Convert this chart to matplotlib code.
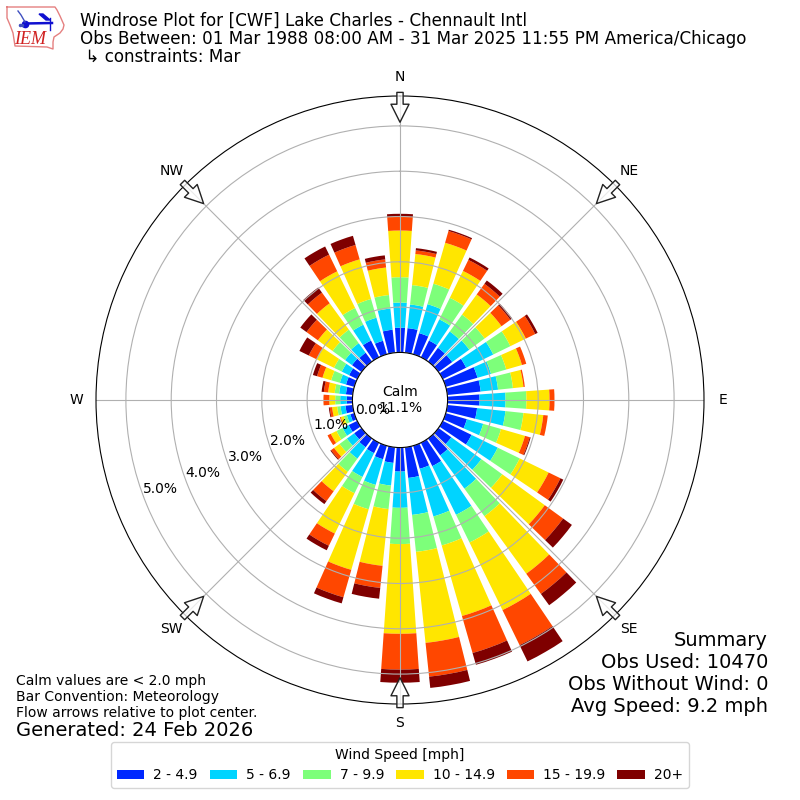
import matplotlib
matplotlib.use("Agg")
import matplotlib.pyplot as plt
import numpy as np

# wind directions, every 10 degrees starting at north
directions = list(range(0, 360, 10))

# cumulative frequency [%] reached at the top of each speed bin, per direction
top_2_5 = [.545, .545, .485, .41, .375, .375, .574, .73, .74, .706, .66, .486,
           .706, .35, .46, .574, .53, .68, .53, .346, .31, .256, .24, .2,
           .21, .09, .16, .125, .15, .19, .2, .26, .24, .41, .31, .51]
top_5_7 = [1.10, 1.07, 1.15, .93, .82, .84, 1.24, 1.04, 1.126, 1.28, 1.29, .86,
           1.35, 1.17, 1.37, 1.77, 1.625, 1.50, 1.33, .85, .90, .84, .55, .4,
           .36, .17, .27, .27, .30, .33, .38, .45, .5, .8, .84, .98]
top_7_10 = [1.66, 1.50, 1.62, 1.46, 1.28, 1.26, 1.66, 1.39, 1.457, 1.74, 1.69, 1.27,
            1.89, 1.74, 2.12, 2.45, 2.29, 2.32, 2.13, 1.37, 1.46, 1.24, .91, .6,
            .51, .24, .344, .38, .40, .53, .57, .79, .87, 1.21, 1.27, 1.28]
top_10_15 = [2.69, 2.19, 2.56, 2.12, 1.83, 1.72, 2.04, 1.75, 1.69, 2.25, 2.13, 1.82,
             2.60, 2.90, 3.69, 4.11, 3.91, 4.34, 4.11, 2.63, 2.85, 2.23, 1.44, .75,
             .65, .31, .457, .51, .545, .73, 1.0, 1.19, 1.59, 2.11, 2.18, 1.89]
top_15_20 = [3.00, 2.27, 2.83, 2.39, 2.12, 1.96, 2.27, 1.85, 1.72, 2.36, 2.23, 1.93,
             2.89, 3.40, 4.24, 4.97, 4.76, 5.09, 4.90, 3.12, 3.48, 2.53, 1.71, .83,
             .73, .33, .51, .64, .64, .855, 1.19, 1.5, 1.88, 2.52, 2.51, 2.07]
top_20 = [3.06, 2.32, 2.86, 2.45, 2.21, 2.01, 2.33, 1.85, 1.72, 2.36, 2.23, 1.95,
          2.96, 3.64, 4.55, 5.37, 5.03, 5.34, 5.19, 3.36, 3.62, 2.64, 1.79, .85,
          .73, .33, .53, .64, .69, .95, 1.42, 1.67, 2.02, 2.72, 2.72, 2.16]

speed_labels = ["2 - 4.9", "5 - 6.9", "7 - 9.9", "10 - 14.9", "15 - 19.9", "20+"]
speed_colors = ["#0028ff", "#00d4ff", "#7dff7a", "#ffe600", "#ff4700", "#7f0000"]

compass_angles = [0, 45, 90, 135, 180, 225, 270, 315]
compass_labels = ["N", "NE", "E", "SE", "S", "SW", "W", "NW"]
radial_ticks = [0, 1, 2, 3, 4, 5]

fig = plt.figure(figsize=(8, 8), dpi=100)
ax = fig.add_axes([0.12, 0.12, 0.76, 0.76], projection="polar")
ax.set_theta_zero_location("N")
ax.set_theta_direction(-1)

theta = np.radians(directions)
tops = [top_2_5, top_5_7, top_7_10, top_10_15, top_15_20, top_20]
bottom = np.zeros(len(directions))
for top, color, label in zip(tops, speed_colors, speed_labels):
    top = np.array(top)
    ax.bar(theta, top - bottom, width=np.radians(8), bottom=bottom, color=color,
           linewidth=0, label=label)
    bottom = top

ax.set_rorigin(-1.05)
ax.set_rlim(0, 5.66)
ax.set_rgrids(radial_ticks, [f"{r:.1f}%" for r in radial_ticks], fontsize=10)
ax.set_rlabel_position(249.6)
ax.set_thetagrids(compass_angles, compass_labels, fontsize=10)
ax.grid(True, color="#b0b0b0", linewidth=0.8)

# flow arrows sitting on the outer edge
for angle in compass_angles:
    ax.annotate("", xy=(np.radians(angle), 5.08), xytext=(np.radians(angle), 5.74),
                arrowprops=dict(facecolor=(1, 1, 1, 0.75), edgecolor="#222222", width=4.5,
                                headwidth=13, headlength=13, shrink=0, linewidth=1))

ax.text(0.5, 0.5, "Calm\n11.1%", transform=ax.transAxes, ha="center", va="center",
        fontsize=10, zorder=6)

fig.text(0.1, 0.985, "Windrose Plot for [CWF] Lake Charles - Chennault Intl\n"
         "Obs Between: 01 Mar 1988 08:00 AM - 31 Mar 2025 11:55 PM America/Chicago\n"
         " \u21b3 constraints: Mar", fontsize=12.05, va="top", linespacing=1.0)
fig.text(0.96, 0.105, "Summary\nObs Used: 10470\nObs Without Wind: 0\nAvg Speed: 9.2 mph",
         fontsize=14, ha="right", va="bottom")
fig.text(0.02, 0.1, "Calm values are < 2.0 mph\nBar Convention: Meteorology\n"
         "Flow arrows relative to plot center.", fontsize=10, va="bottom")
fig.text(0.02, 0.075, "Generated: 24 Feb 2026", fontsize=14, va="bottom")

handles, labels = ax.get_legend_handles_labels()
fig.legend(handles, labels, title="Wind Speed [mph]", ncol=6, loc="lower center",
           bbox_to_anchor=(0.5, 0.015), borderaxespad=0, fontsize=10, title_fontsize=10,
           columnspacing=0.85, handletextpad=0.65)

# IEM logo, drawn in pixel coordinates of the top left corner
logo = fig.add_axes([0, 1 - 55 / 800, 70 / 800, 55 / 800])
logo.set_xlim(0, 70)
logo.set_ylim(55, 0)
logo.axis("off")
logo.plot([7, 55, 57, 60, 64, 63, 60, 54, 53, 53, 47, 15, 13, 10, 7, 7],
          [7, 7, 10, 16, 25, 29, 33, 37, 42, 49, 47, 46, 33, 25, 18, 7],
          color="#e58080", linewidth=1)
logo.plot([25, 52], [23.5, 23], color="#1010d0", linewidth=1.8)
logo.plot([25], [24], "o", color="#1010d0", markersize=4.5)
logo.plot([18, 21, 25], [11, 15, 22], color="#4050c0", linewidth=1)
logo.fill([39, 43, 50, 46], [14, 14, 20, 20], color="#1010d0")
logo.plot([50, 50], [18, 30], color="#1010d0", linewidth=1)
logo.plot([20, 22], [25, 25], ".", color="#4050c0", markersize=3)
logo.text(30, 40, "IEM", family="Liberation Serif", style="italic", color="#d02020",
          fontsize=13, ha="center", va="center")

fig.savefig("out.png", dpi=100)
